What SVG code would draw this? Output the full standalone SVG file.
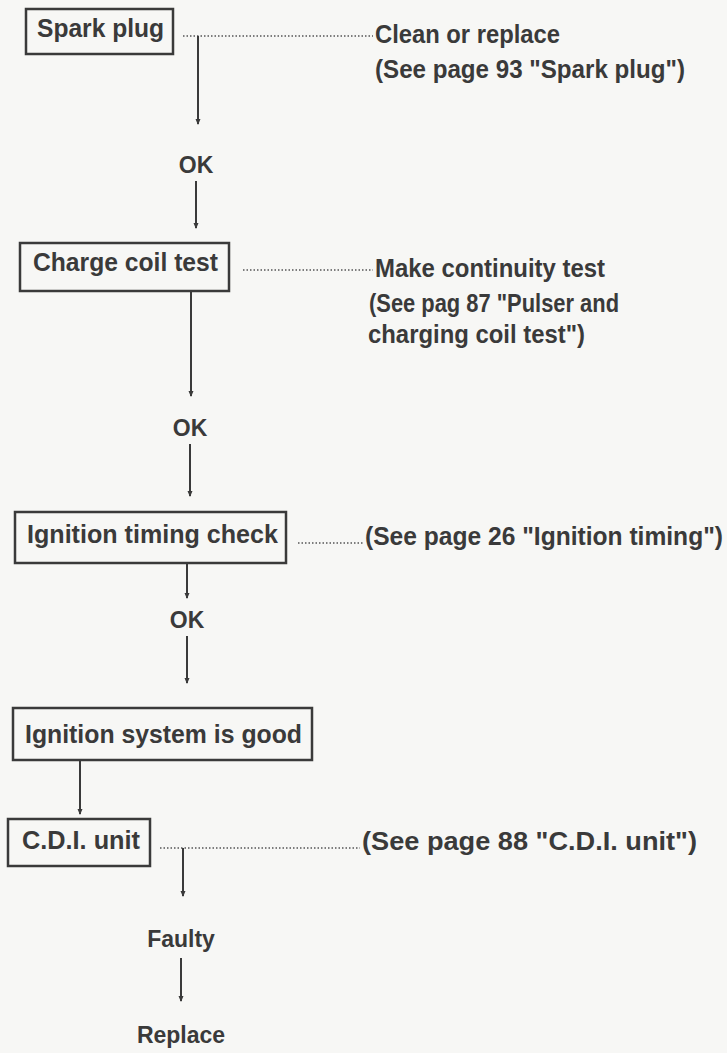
<svg xmlns="http://www.w3.org/2000/svg" width="727" height="1053" viewBox="0 0 727 1053">
<defs>
<marker id="ah" viewBox="0 0 6 6" refX="5" refY="3" markerWidth="6" markerHeight="6" markerUnits="userSpaceOnUse" orient="auto">
<path d="M0,0.5 L6,3 L0,5.5 z" fill="#3a3a3a"/>
</marker>
<style>
.box{fill:none;stroke:#3a3a3a;stroke-width:2.5}
.t{font-family:"Liberation Sans",Arial,sans-serif;font-weight:bold;font-size:25px;fill:#3a3a3a}
.s{font-size:23px}
.c{text-anchor:middle}
.ln{stroke:#3a3a3a;stroke-width:2;fill:none}
.dot{stroke:#555;stroke-width:1.6;stroke-dasharray:1.5 2;fill:none}
</style>
</defs>
<rect width="727" height="1053" fill="#f7f7f5"/>
<g id="connectors">
<path class="dot" d="M183,36 H373"/>
<path class="ln" d="M198,36 V124" marker-end="url(#ah)"/>
<path class="ln" d="M196,181 V228" marker-end="url(#ah)"/>
<path class="dot" d="M243,270 H373"/>
<path class="ln" d="M191,291 V396" marker-end="url(#ah)"/>
<path class="ln" d="M190,444 V496" marker-end="url(#ah)"/>
<path class="dot" d="M298,543 H364"/>
<path class="ln" d="M187,563 V598" marker-end="url(#ah)"/>
<path class="ln" d="M187,636 V683" marker-end="url(#ah)"/>
<path class="ln" d="M80,760 V814" marker-end="url(#ah)"/>
<path class="dot" d="M160,848 H360"/>
<path class="ln" d="M183,848 V896" marker-end="url(#ah)"/>
<path class="ln" d="M181,958 V1001" marker-end="url(#ah)"/>
</g>
<g id="spark-plug">
<rect class="box" x="26" y="9" width="147" height="45"/>
<text class="t" x="37" y="37" textLength="127" lengthAdjust="spacingAndGlyphs">Spark plug</text>
</g>
<g id="spark-plug-note">
<text class="t" x="375" y="43" textLength="185" lengthAdjust="spacingAndGlyphs">Clean or replace</text>
<text class="t" x="375" y="78" textLength="310" lengthAdjust="spacingAndGlyphs">(See page 93 "Spark plug")</text>
</g>
<g id="ok1"><text class="t s c" x="196" y="173">OK</text></g>
<g id="charge-coil">
<rect class="box" x="20" y="243" width="209" height="48"/>
<text class="t" x="33" y="271" textLength="185" lengthAdjust="spacingAndGlyphs">Charge coil test</text>
</g>
<g id="charge-coil-note">
<text class="t" x="375" y="277" textLength="230" lengthAdjust="spacingAndGlyphs">Make continuity test</text>
<text class="t" x="369" y="312" textLength="250" lengthAdjust="spacingAndGlyphs">(See pag 87 "Pulser and</text>
<text class="t" x="368" y="343" textLength="217" lengthAdjust="spacingAndGlyphs">charging coil test")</text>
</g>
<g id="ok2"><text class="t s c" x="190" y="436">OK</text></g>
<g id="ignition-timing">
<rect class="box" x="15" y="512" width="271" height="51"/>
<text class="t" x="27" y="543" textLength="251" lengthAdjust="spacingAndGlyphs">Ignition timing check</text>
</g>
<g id="ignition-timing-note">
<text class="t" x="365" y="545" textLength="358" lengthAdjust="spacingAndGlyphs">(See page 26 "Ignition timing")</text>
</g>
<g id="ok3"><text class="t s c" x="187" y="628">OK</text></g>
<g id="ignition-good">
<rect class="box" x="13" y="708" width="299" height="52"/>
<text class="t" x="25" y="743" textLength="277" lengthAdjust="spacingAndGlyphs">Ignition system is good</text>
</g>
<g id="cdi-unit">
<rect class="box" x="8" y="819" width="142" height="47"/>
<text class="t" x="22" y="849" textLength="118" lengthAdjust="spacingAndGlyphs">C.D.I. unit</text>
</g>
<g id="cdi-note">
<text class="t" x="362" y="850" textLength="335" lengthAdjust="spacingAndGlyphs">(See page 88 "C.D.I. unit")</text>
</g>
<g id="faulty"><text class="t s c" x="181" y="947">Faulty</text></g>
<g id="replace"><text class="t s c" x="181" y="1043">Replace</text></g>
</svg>
